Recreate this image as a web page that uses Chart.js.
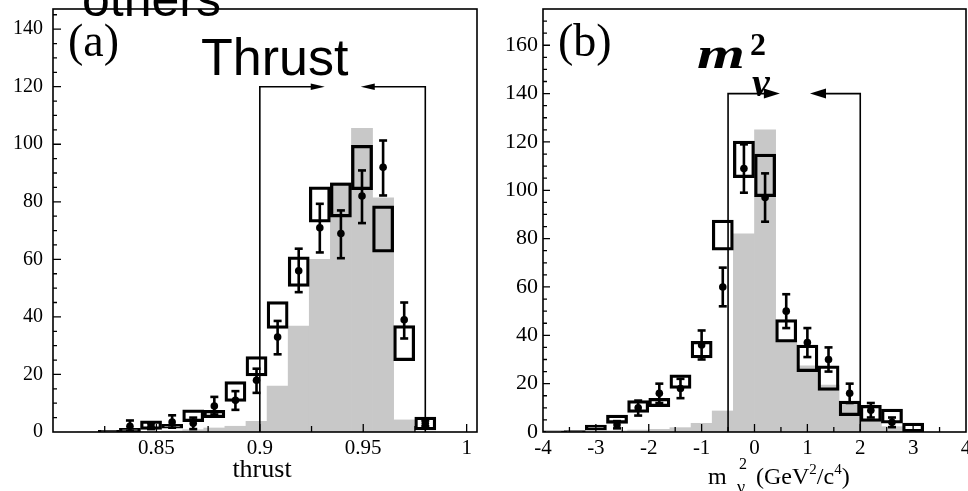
<!DOCTYPE html>
<html>
<head>
<meta charset="utf-8">
<script src="https://cdn.jsdelivr.net/npm/chart.js@4.4.1/dist/chart.umd.min.js"></script>
<style>
  html, body { margin: 0; padding: 0; background: #fff; }
  #wrap { position: relative; width: 968px; height: 491px; overflow: hidden; }
  .panel { position: absolute; top: 0; width: 484px; height: 491px; }
  #panelA { left: 0; }
  #panelB { left: 484px; }
</style>
</head>
<body>
<div id="wrap">
  <div class="panel" id="panelA"><canvas id="thrustChart"></canvas></div>
  <div class="panel" id="panelB"><canvas id="mnuChart"></canvas></div>
</div>
<script>
// ---------- (a) thrust ----------
const thrustBins    = [0.8168, 0.8270, 0.8372, 0.8474, 0.8576, 0.8678, 0.8780, 0.8882, 0.8984, 0.9086, 0.9188, 0.9290, 0.9392, 0.9494, 0.9596, 0.9698, 0.9800];
const thrustSignal  = [0, 0, 0, 0.2, 0.4, 0.8, 1.4, 2, 3.7, 16, 36.8, 60, 86.7, 105.5, 81.4, 4.2, 0];
const thrustMcLo    = [null, 0, 0.1, 0.9, 1.3, 3.6, 5.0, 10.6, 19.5, 36, 50.6, 72.9, 74.7, 84.2, 62.5, 24.8, 0.7];
const thrustMcHi    = [null, 0.6, 1.3, 3.9, 2.7, 7.7, 7.5, 17.5, 26.2, 45.3, 60.9, 85.2, 86.6, 99.6, 78.6, 37, 5.2];
const thrustData    = [null, null, 2, 2, 3.5, 3, 9, 11, 18, 33, 56, 71, 69, 82, 92, 39, 3];
const thrustErrLo   = [null, null, 0.4, 1, 1.5, 1, 6.1, 7.7, 13.6, 27, 48.6, 62.4, 60.4, 72.6, 82.2, 32.5, 2];
const thrustErrHi   = [null, null, 4, 3, 5.8, 5, 12.2, 14.2, 22, 38.6, 63.7, 79.3, 77, 90.9, 101.3, 45, 4];
const thrustCuts      = [0.9, 0.98];
const thrustArrowTips = [0.9314, 0.9488];
const thrustCutHeight = 120;

// ---------- (b) m_nu^2 ----------
const mnuBins   = [-3.8, -3.4, -3.0, -2.6, -2.2, -1.8, -1.4, -1.0, -0.6, -0.2, 0.2, 0.6, 1.0, 1.4, 1.8, 2.2, 2.6, 3.0];
const mnuSignal = [0, 0, 0.2, 0.5, 0.8, 1.1, 1.8, 3.6, 8.7, 82, 125, 37.8, 27.4, 19.4, 12.5, 5.2, 2.2, 0];
const mnuMcLo   = [0, 0, 0.8, 3.6, 8.1, 10.5, 18, 30.6, 75.2, 105.2, 97.4, 37.2, 25, 17.2, 6.8, 4.4, 3.7, 0];
const mnuMcHi   = [0.5, 0.6, 2.9, 7, 13, 13.9, 23.7, 37.5, 87.7, 120.4, 115, 46.5, 36, 27.4, 12.8, 11, 9.5, 3.7];
const mnuData   = [null, null, null, 3, 10, 16, 18, 36, 60, 109, 97, 50, 37, 30, 16, 9, 4, null];
const mnuErrLo  = [null, null, null, 1.5, 6.8, 12, 14, 30, 52, 99, 87, 43, 31, 25, 12, 6, 2, null];
const mnuErrHi  = [null, null, null, 4.5, 13, 20, 22, 42, 68, 119, 107, 57, 43, 35, 20, 12, 6, null];
const mnuCuts      = [-0.5, 2.0];
const mnuArrowTips = [0.48, 1.05];
const mnuCutHeight = 140;

const INK = '#000';
const GREY = '#c8c8c8';
const SERIF = '"Liberation Serif", "Times New Roman", serif';

function pairs(bins, vals) {
    return bins.map((b, i) => ({ x: b, y: vals[i] })).filter(p => p.y != null);
}
function ranges(bins, lo, hi) {
    return bins.map((b, i) => ({ x: b, y: [lo[i], hi[i]] })).filter(p => p.y[0] != null);
}
function errorBars(bins, lo, hi) {
    const pts = [];
    bins.forEach((b, i) => {
        if (lo[i] == null) return;
        pts.push({ x: b, y: lo[i] }, { x: b, y: hi[i] }, { x: b, y: null });
    });
    return pts;
}

// frame, inward ticks, cut lines with arrows
const framePlugin = {
    id: 'frame',
    afterDatasetsDraw(chart, args, o) {
        const { ctx, chartArea: a, scales: { x, y } } = chart;
        ctx.save();
        ctx.strokeStyle = INK;
        ctx.fillStyle = INK;

        ctx.lineWidth = 1.3;
        ctx.beginPath();
        x.ticks.forEach(t => {
            const px = x.getPixelForValue(t.value);
            if (px <= a.left + 1 || px >= a.right - 1) return;
            const len = t.label ? o.xMajor : o.xMinor;
            ctx.moveTo(px, a.bottom);
            ctx.lineTo(px, a.bottom - len);
        });
        y.ticks.forEach(t => {
            const py = y.getPixelForValue(t.value);
            if (py <= a.top + 1 || py >= a.bottom - 1) return;
            const len = t.label ? o.yMajor : o.yMinor;
            ctx.moveTo(a.left, py);
            ctx.lineTo(a.left + len, py);
        });
        ctx.stroke();

        // cut lines
        ctx.lineWidth = 1.6;
        const yTop = y.getPixelForValue(o.cutHeight);
        o.cuts.forEach((c, i) => {
            const px = x.getPixelForValue(c);
            const tip = x.getPixelForValue(o.tips[i]);
            const dir = tip > px ? 1 : -1;
            ctx.beginPath();
            ctx.moveTo(px, y.getPixelForValue(0));
            ctx.lineTo(px, yTop);
            ctx.lineTo(tip - dir * o.headLen * 0.5, yTop);
            ctx.stroke();
            ctx.beginPath();
            ctx.moveTo(tip, yTop);
            ctx.lineTo(tip - dir * o.headLen, yTop - o.headHalf);
            ctx.lineTo(tip - dir * o.headLen, yTop + o.headHalf);
            ctx.closePath();
            ctx.fill();
        });

        ctx.lineWidth = 1.6;
        ctx.strokeRect(a.left, a.top, a.right - a.left, a.bottom - a.top);
        ctx.restore();
    }
};

// free text labels
const labelPlugin = {
    id: 'labels',
    afterDraw(chart, args, o) {
        const ctx = chart.ctx;
        ctx.save();
        ctx.fillStyle = INK;
        ctx.textBaseline = 'alphabetic';
        o.items.forEach(it => {
            if (it.runs) {
                let cx = it.x;
                it.runs.forEach(([txt, font, dy]) => {
                    ctx.font = font;
                    ctx.textAlign = 'left';
                    ctx.fillText(txt, cx, it.y + (dy || 0));
                    cx += ctx.measureText(txt).width;
                });
                return;
            }
            ctx.font = it.font;
            ctx.textAlign = it.align || 'left';
            if (it.sx) {
                ctx.save();
                ctx.translate(it.x, it.y);
                ctx.scale(it.sx, 1);
                ctx.fillText(it.text, 0, 0);
                ctx.restore();
            } else {
                ctx.fillText(it.text, it.x, it.y);
            }
        });
        ctx.restore();
    }
};

function makePanel(canvasId, p) {
    return new Chart(document.getElementById(canvasId), {
        type: 'bar',
        data: {
            datasets: [
                {
                    label: 'signal MC',
                    data: pairs(p.bins, p.signal),
                    backgroundColor: GREY,
                    borderWidth: 0,
                    grouped: false,
                    barPercentage: 1,
                    categoryPercentage: 1,
                    order: 5
                },
                {
                    label: 'expected',
                    data: ranges(p.bins, p.mcLo, p.mcHi),
                    backgroundColor: 'rgba(0,0,0,0)',
                    borderColor: INK,
                    borderWidth: 2.6,
                    borderSkipped: false,
                    grouped: false,
                    barPercentage: 1,
                    categoryPercentage: 1,
                    order: 3
                },
                {
                    type: 'line',
                    label: 'errors',
                    data: errorBars(p.bins, p.errLo, p.errHi),
                    borderColor: INK,
                    borderWidth: 2.6,
                    spanGaps: false,
                    fill: false,
                    pointStyle: 'line',
                    pointRadius: 4,
                    pointBorderWidth: 2.6,
                    pointBorderColor: INK,
                    order: 1
                },
                {
                    type: 'scatter',
                    label: 'data',
                    data: pairs(p.bins, p.data),
                    backgroundColor: INK,
                    borderWidth: 0,
                    pointRadius: 3.8,
                    order: 0
                }
            ]
        },
        options: {
            responsive: true,
            maintainAspectRatio: false,
            animation: false,
            events: [],
            layout: {
                autoPadding: false,
                padding: { top: 9, right: p.padRight, left: 0, bottom: 0 }
            },
            scales: {
                x: {
                    type: 'linear',
                    min: p.xMin,
                    max: p.xMax,
                    offset: false,
                    grid: { display: false, drawTicks: false },
                    border: { display: false },
                    ticks: {
                        stepSize: p.xStep,
                        includeBounds: false,
                        autoSkip: false,
                        maxRotation: 0,
                        minRotation: 0,
                        padding: 4,
                        color: INK,
                        font: { family: SERIF, size: 21 },
                        callback: p.xLabel
                    },
                    afterFit: s => { s.height = 59; s.paddingLeft = 0; s.paddingRight = 0; }
                },
                y: {
                    type: 'linear',
                    min: 0,
                    max: p.yMax,
                    grid: { display: false, drawTicks: false },
                    border: { display: false },
                    ticks: {
                        stepSize: 5,
                        includeBounds: false,
                        autoSkip: false,
                        padding: p.yPad,
                        color: INK,
                        font: { family: SERIF, size: p.yFont },
                        callback: v => (Math.round(v) % 20 === 0 ? String(Math.round(v)) : '')
                    },
                    afterFit: s => { s.width = p.yWidth; s.paddingTop = 0; s.paddingBottom = 0; }
                }
            },
            plugins: {
                legend: { display: false },
                tooltip: { enabled: false },
                frame: p.frame,
                labels: { items: p.labels }
            }
        },
        plugins: [framePlugin, labelPlugin]
    });
}

makePanel('thrustChart', {
    bins: thrustBins, signal: thrustSignal, mcLo: thrustMcLo, mcHi: thrustMcHi,
    data: thrustData, errLo: thrustErrLo, errHi: thrustErrHi,
    xMin: 0.8, xMax: 1.005, xStep: 0.025, yMax: 147,
    padRight: 7, yWidth: 53, yPad: 10, yFont: 20,
    xLabel: v => {
        const m = Math.round(v * 1000);
        return (m % 50 === 0 && m !== 800) ? String(+(m / 1000).toFixed(3)) : '';
    },
    frame: {
        xMajor: 8, xMinor: 6, yMajor: 8, yMinor: 4,
        cuts: thrustCuts, tips: thrustArrowTips, cutHeight: thrustCutHeight,
        headLen: 14, headHalf: 3.2
    },
    labels: [
        { text: 'others', x: 82, y: 16, font: '50px "Liberation Sans"' },
        { text: 'Thrust', x: 201, y: 75, font: '52px "Liberation Sans"' },
        { text: '(a)', x: 68, y: 56, font: '46px ' + SERIF },
        { text: 'thrust', x: 262, y: 477, font: '26px ' + SERIF, align: 'center' }
    ]
});

makePanel('mnuChart', {
    bins: mnuBins, signal: mnuSignal, mcLo: mnuMcLo, mcHi: mnuMcHi,
    data: mnuData, errLo: mnuErrLo, errHi: mnuErrHi,
    xMin: -4, xMax: 4, xStep: 0.5, yMax: 175,
    padRight: 2, yWidth: 59, yPad: 5, yFont: 22,
    xLabel: v => (Math.abs(v - Math.round(v)) < 1e-6 ? String(Math.round(v)) : ''),
    frame: {
        xMajor: 8, xMinor: 5, yMajor: 7, yMinor: 4,
        cuts: mnuCuts, tips: mnuArrowTips, cutHeight: mnuCutHeight,
        headLen: 16, headHalf: 5
    },
    labels: [
        { text: '(b)', x: 74, y: 56, font: '46px ' + SERIF },
        { text: 'm', x: 213, y: 68, font: 'bold italic 44px ' + SERIF, sx: 1.4 },
        { text: '2', x: 266, y: 55, font: 'bold 32px ' + SERIF },
        { text: 'ν', x: 268, y: 96, font: 'bold italic 40px ' + SERIF },
        { text: 'm', x: 224, y: 484, font: '24px ' + SERIF },
        { text: '2', x: 255, y: 469, font: '16px ' + SERIF },
        { text: 'ν', x: 253, y: 493, font: '18px ' + SERIF },
        { x: 272, y: 484, runs: [
            ['(GeV', '24px ' + SERIF, 0],
            ['2', '15px ' + SERIF, -10],
            ['/c', '24px ' + SERIF, 0],
            ['4', '15px ' + SERIF, -10],
            [')', '24px ' + SERIF, 0]
        ] }
    ]
});
</script>
</body>
</html>
